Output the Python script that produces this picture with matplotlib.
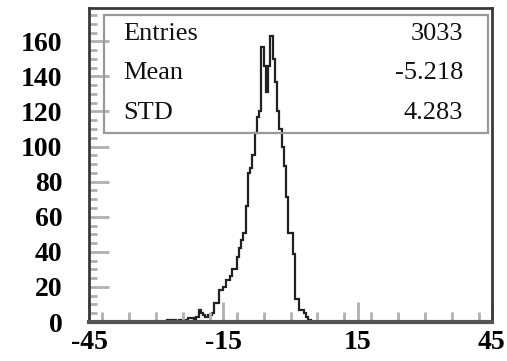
import numpy as np
import matplotlib
matplotlib.use("Agg")
import matplotlib.pyplot as plt
from matplotlib.patches import Rectangle
from matplotlib.ticker import MultipleLocator, FixedLocator

# ---- data (histogram, bin width 0.5, starting at -28) ----
bin_start = -28.0
bin_width = 0.5
counts = [0, 1, 0, 1, 1, 0, 1, 1, 1, 1, 2, 2, 2, 1, 3, 7, 5, 4, 3, 4, 4, 5,
          11, 11, 18, 18, 20, 24, 24, 26, 30, 30, 37, 42, 47, 51, 66, 85, 88,
          95, 108, 117, 120, 157, 146, 131, 146, 163, 150, 137, 120, 110, 100,
          89, 71, 51, 51, 39, 13, 13, 7, 7, 5, 3, 1, 0]

stat_names = ["Entries", "Mean", "STD"]
stat_values = ["3033", "-5.218", "4.283"]

x_major = [-45, -15, 15, 45]
y_major = [0, 20, 40, 60, 80, 100, 120, 140, 160]

# ---- figure ----
fig = plt.figure(figsize=(5.07, 3.61), dpi=100)
ax = fig.add_axes([89 / 507, (361 - 322) / 361, 403 / 507, 314 / 361])

edges = bin_start + bin_width * np.arange(len(counts) + 1)
ax.stairs(counts, edges, color="#222222", linewidth=1.6)

ax.set_xlim(-45, 45)
ax.set_ylim(0, 179)

ax.xaxis.set_major_locator(FixedLocator(x_major))
ax.xaxis.set_minor_locator(MultipleLocator(6))
ax.yaxis.set_major_locator(FixedLocator(y_major))
ax.yaxis.set_minor_locator(MultipleLocator(5))

tickfont = dict(family="Liberation Serif", weight="bold", size=20)
ax.set_xticklabels([str(v) for v in x_major], fontdict=tickfont)
ax.set_yticklabels([str(v) for v in y_major], fontdict=tickfont)

ax.tick_params(axis="both", which="both", direction="in", color="#b0b0b0",
               width=2, top=False, right=False)
ax.tick_params(axis="y", which="major", length=14.5, pad=19)
ax.tick_params(axis="y", which="minor", length=6)
ax.tick_params(axis="x", which="major", length=14.5, pad=6)
ax.tick_params(axis="x", which="minor", length=7)

for side in ["left", "top", "right"]:
    ax.spines[side].set_color("#3a3a3a")
    ax.spines[side].set_linewidth(2)
ax.spines["bottom"].set_color("#555555")
ax.spines["bottom"].set_linewidth(3)

# ---- stats box ----
box = Rectangle((0.037, 0.602), 0.953, 0.376, transform=ax.transAxes,
                fill=False, edgecolor="#999999", linewidth=1.6, zorder=3)
ax.add_patch(box)
statfont = dict(family="Liberation Serif", size=19, color="#111111")
for i, (n, v) in enumerate(zip(stat_names, stat_values)):
    yy = 0.917 - i * 0.125
    ax.text(0.084, yy, n, transform=ax.transAxes, ha="left", va="center", **statfont)
    ax.text(0.928, yy, v, transform=ax.transAxes, ha="right", va="center", **statfont)

fig.savefig("out.png", dpi=100)
